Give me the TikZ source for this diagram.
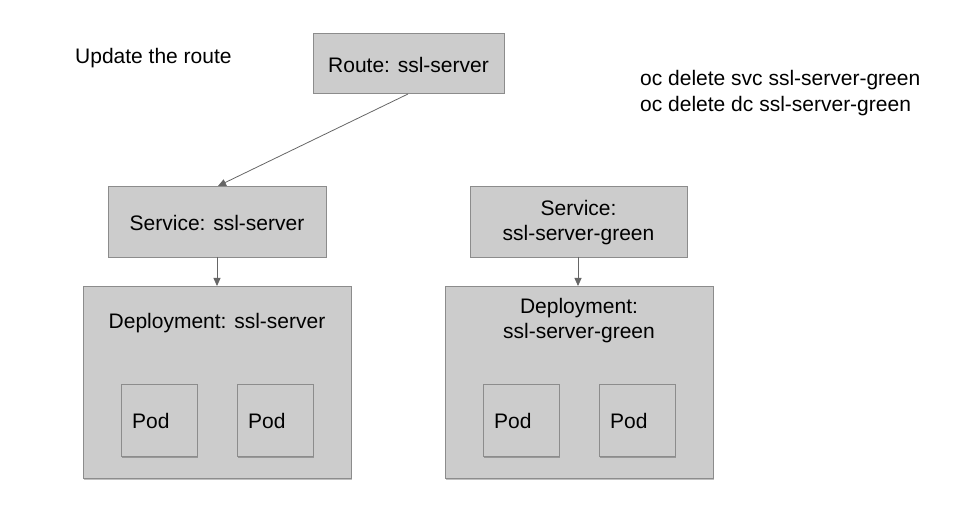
\documentclass[tikz,border=0pt]{standalone}
\usepackage{fontspec}
\setmainfont{Liberation Sans}
\usetikzlibrary{shadows,arrows.meta}
\definecolor{boxfill}{HTML}{CCCCCC}
\definecolor{boxline}{HTML}{8C8C8C}
\definecolor{arrowc}{HTML}{666666}
\begin{document}
\begin{tikzpicture}[x=1pt,y=-1pt,
  every node/.style={font=\fontsize{21}{25}\selectfont, text=black},
  gbox/.style={draw=boxline, line width=0.9pt, fill=boxfill,
    drop shadow={shadow xshift=1pt, shadow yshift=-1.5pt, opacity=0.25, fill=black}},
  lbl/.style={align=center, inner sep=0pt},
  conn/.style={draw=arrowc, line width=0.8pt, -{Triangle[length=8pt,width=7pt]}}
]
\useasboundingbox (0,0) rectangle (964,518);

% boxes
\path[gbox] (313,33) rectangle (504,93);
\coordinate (routeBot) at (408,94);
\path[gbox] (108,186) rectangle (326,257);
\path[gbox] (470,186) rectangle (687,257);
\path[gbox] (83,286) rectangle (351,478);
\path[gbox] (445,286) rectangle (713,478);
\path[gbox] (121,384) rectangle (197,456);
\path[gbox] (237,384) rectangle (313,456);
\path[gbox] (483,384) rectangle (559,456);
\path[gbox] (599,384) rectangle (675,456);

% labels
\node[lbl] (route) at (408.5,64.5) {Route: ssl-server};
\node[lbl] (svc) at (217,223) {Service: ssl-server};
\node[lbl] (svcg) at (578.5,223) {Service:\\ssl-server-green};
\node[lbl] (dep) at (217,323) {Deployment: ssl-server};
\node[lbl] (depg) at (579,321) {Deployment:\\ssl-server-green};
\node[lbl,anchor=west] (p1) at (132,421) {Pod};
\node[lbl,anchor=west] (p2) at (248,421) {Pod};
\node[lbl,anchor=west] (p3) at (494,421) {Pod};
\node[lbl,anchor=west] (p4) at (610,421) {Pod};

\node[lbl,anchor=west] (upd) at (75,58) {Update the route};
\node[lbl,anchor=west,align=left,font=\fontsize{21}{26}\selectfont] (cmds) at (640,93) {oc delete svc ssl-server-green\\oc delete dc ssl-server-green};

% connector anchors
\coordinate (svcTop) at (218,186);
\coordinate (svcBot) at (217,257);
\coordinate (depTop) at (217,286);
\coordinate (svcgBot) at (578,257);
\coordinate (depgTop) at (578,286);

\draw[conn] (routeBot) -- (svcTop);
\draw[conn] (svcBot) -- (depTop);
\draw[conn] (svcgBot) -- (depgTop);
\end{tikzpicture}
\end{document}
